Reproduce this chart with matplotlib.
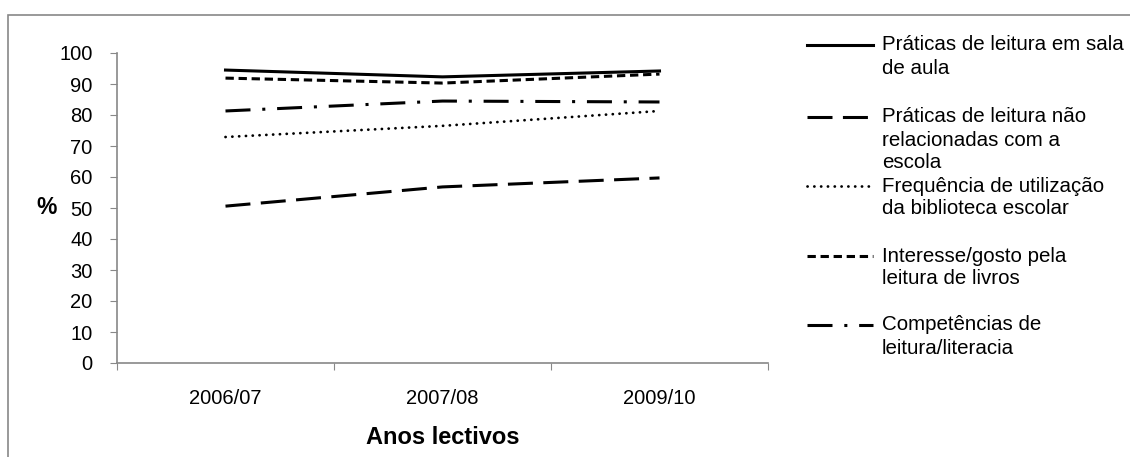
import matplotlib.pyplot as plt
from matplotlib.lines import Line2D
from matplotlib.patches import Rectangle

plt.rcParams['font.family'] = ['Liberation Sans', 'DejaVu Sans']
plt.rcParams['lines.scale_dashes'] = False

anos = ["2006/07", "2007/08", "2009/10"]
sala = [94.5, 92.3, 94.2]
nao_escola = [50.6, 56.8, 59.7]
biblioteca = [72.9, 76.5, 81.3]
interesse = [91.9, 90.3, 93.2]
competencias = [81.3, 84.5, 84.2]

series = [
    (sala, ["Práticas de leitura em sala", "de aula"], dict(ls='-', lw=2.2)),
    (nao_escola, ["Práticas de leitura não", "relacionadas com a", "escola"],
     dict(ls=(0, (18, 7.5)), lw=2.2)),
    (biblioteca, ["Frequência de utilização", "da biblioteca escolar"],
     dict(ls=(0, (0.1, 4.8)), lw=2.0, dash_capstyle='round')),
    (interesse, ["Interesse/gosto pela", "leitura de livros"],
     dict(ls=(0, (6, 3.4)), lw=2.2)),
    (competencias, ["Competências de", "leitura/literacia"],
     dict(ls=(0, (18, 8.5, 2.2, 8.5)), lw=2.2)),
]

W, H = 1130, 457
fig = plt.figure(figsize=(11.3, 4.57), dpi=100)
ax = fig.add_axes([117/W, 1-363/H, (768-117)/W, (363-53)/H])

x = range(len(anos))
for vals, lab, st in series:
    ax.plot(x, vals, color='black', **st)

ax.set_xlim(-0.5, 2.5)
ax.set_ylim(0, 100)
ax.set_yticks(range(0, 101, 10))
ax.set_xticks([-0.5, 0.5, 1.5, 2.5])
ax.set_xticklabels([])
ax.set_xticks(list(x), minor=True)
ax.set_xticklabels(anos, minor=True)
ax.tick_params(axis='x', which='minor', length=0, pad=19, labelsize=14.5)
ax.tick_params(axis='x', which='major', length=5, color='#888888', direction='out')
ax.tick_params(axis='y', length=5, color='#888888', direction='out', labelsize=14.5, pad=12.5)
for s in ['top', 'right']:
    ax.spines[s].set_visible(False)
for s in ['left', 'bottom']:
    ax.spines[s].set_color('#888888')
    ax.spines[s].set_linewidth(1.2)

ax.set_xlabel("Anos lectivos", fontsize=17, fontweight='bold', va='center')
ax.xaxis.set_label_coords(0.5, (363-437)/310)
ax.set_ylabel("%", fontsize=16.5, fontweight='bold', rotation=0, va='center', ha='center')
ax.yaxis.set_label_coords((47-117)/651, (363-208)/310)

# legend drawn by hand
entry_y = [45, 117, 186, 256, 325]
for (vals, lab, st), yy in zip(series, entry_y):
    fig.add_artist(Line2D([807/W, 873/W], [1-yy/H, 1-yy/H], color='black', **st))
    for k, txt in enumerate(lab):
        fig.text(882/W, 1-(yy+23*k)/H, txt, fontsize=14.8, va='center', ha='left')

# outer chart border
fig.add_artist(Rectangle((8/W, -0.2), 2, 1.2-15/H, fill=False,
                         edgecolor='#888888', lw=1.2, transform=fig.transFigure))

fig.savefig("out.png", dpi=100)
